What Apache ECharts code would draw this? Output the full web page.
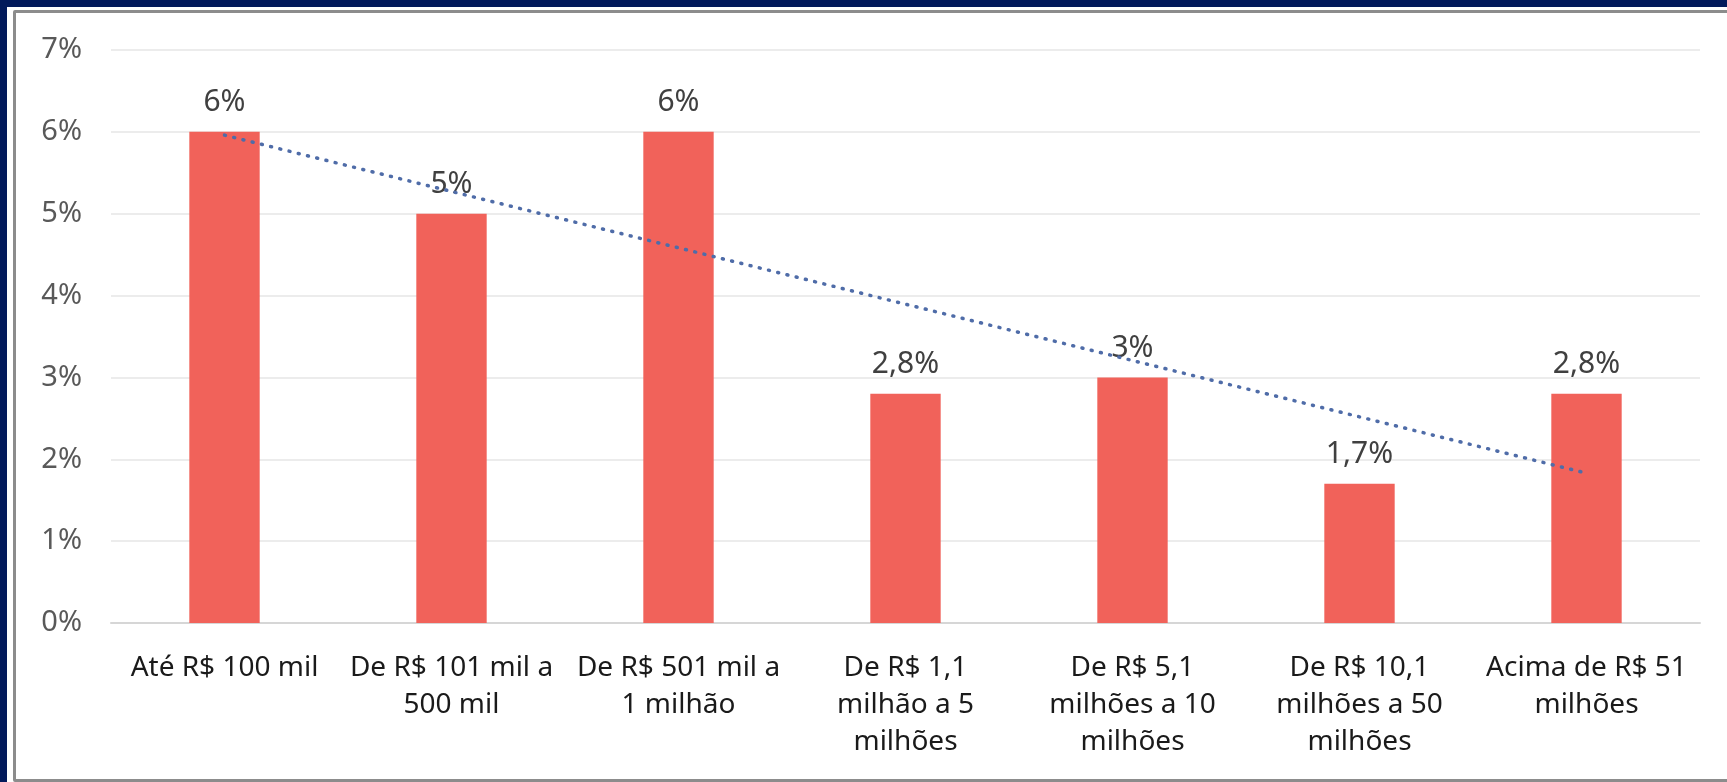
<!DOCTYPE html>
<html>
<head>
<meta charset="utf-8">
<script src="https://cdn.jsdelivr.net/npm/echarts@6/dist/echarts.min.js"></script>
<style>
  html, body { margin: 0; padding: 0; width: 1727px; height: 782px; overflow: hidden; background: #021a5b; }
  #outer { position: absolute; left: 7px; top: 7px; width: 1720px; height: 775px; background: #ffffff; }
  #frame { position: absolute; left: 13px; top: 10px; width: 1730px; height: 766px; border: 3px solid #8c8c8c; border-radius: 2px; background: #ffffff; }
  #chart { position: absolute; left: 0; top: 0; width: 1727px; height: 782px; }
</style>
</head>
<body>
<div id="outer"></div>
<div id="frame"></div>
<div id="chart"></div>
<script>
const categories = [
  'Até R$ 100 mil',
  'De R$ 101 mil a\n500 mil',
  'De R$ 501 mil a\n1 milhão',
  'De R$ 1,1\nmilhão a 5\nmilhões',
  'De R$ 5,1\nmilhões a 10\nmilhões',
  'De R$ 10,1\nmilhões a 50\nmilhões',
  'Acima de R$ 51\nmilhões'
];
const values = [6, 5, 6, 2.8, 3, 1.7, 2.8];
// trendline values read at first and last category
const trendValues = [5.96, null, null, null, null, null, 1.83];
const yTicks = [0, 1, 2, 3, 4, 5, 6, 7];

const fontFamily = '"Noto Sans", "Open Sans", sans-serif';
const chart = echarts.init(document.getElementById('chart'), null, { renderer: 'canvas' });
chart.setOption({
  backgroundColor: 'transparent',
  animation: false,
  grid: { left: 111, right: 27, top: 50, bottom: 159, containLabel: false },
  xAxis: {
    type: 'category',
    data: categories,
    axisLine: { show: true, lineStyle: { color: '#d6d6d6', width: 2 } },
    axisTick: { show: false },
    axisLabel: {
      interval: 0,
      margin: 27,
      color: '#1a1a1a',
      fontFamily: fontFamily,
      fontSize: 28,
      lineHeight: 37
    }
  },
  yAxis: {
    type: 'value',
    min: yTicks[0],
    max: yTicks[yTicks.length - 1],
    interval: 1,
    axisLine: { show: false },
    axisTick: { show: false },
    splitLine: { lineStyle: { color: '#ececec', width: 2 } },
    axisLabel: {
      margin: 29,
      color: '#595959',
      fontFamily: fontFamily,
      fontSize: 29,
      formatter: v => v + '%'
    }
  },
  series: [
    {
      type: 'bar',
      data: values,
      barWidth: '31%',
      itemStyle: { color: '#f1625a' },
      label: {
        show: true,
        position: 'top',
        distance: 14,
        color: '#404040',
        fontFamily: fontFamily,
        fontSize: 30,
        formatter: p => String(p.value).replace('.', ',') + '%'
      },
      z: 2
    },
    {
      type: 'line',
      data: trendValues,
      connectNulls: true,
      symbol: 'none',
      lineStyle: { color: '#4f6ca8', width: 3.5, type: [1, 8.5], cap: 'round' },
      z: 3
    }
  ]
});
</script>
</body>
</html>
